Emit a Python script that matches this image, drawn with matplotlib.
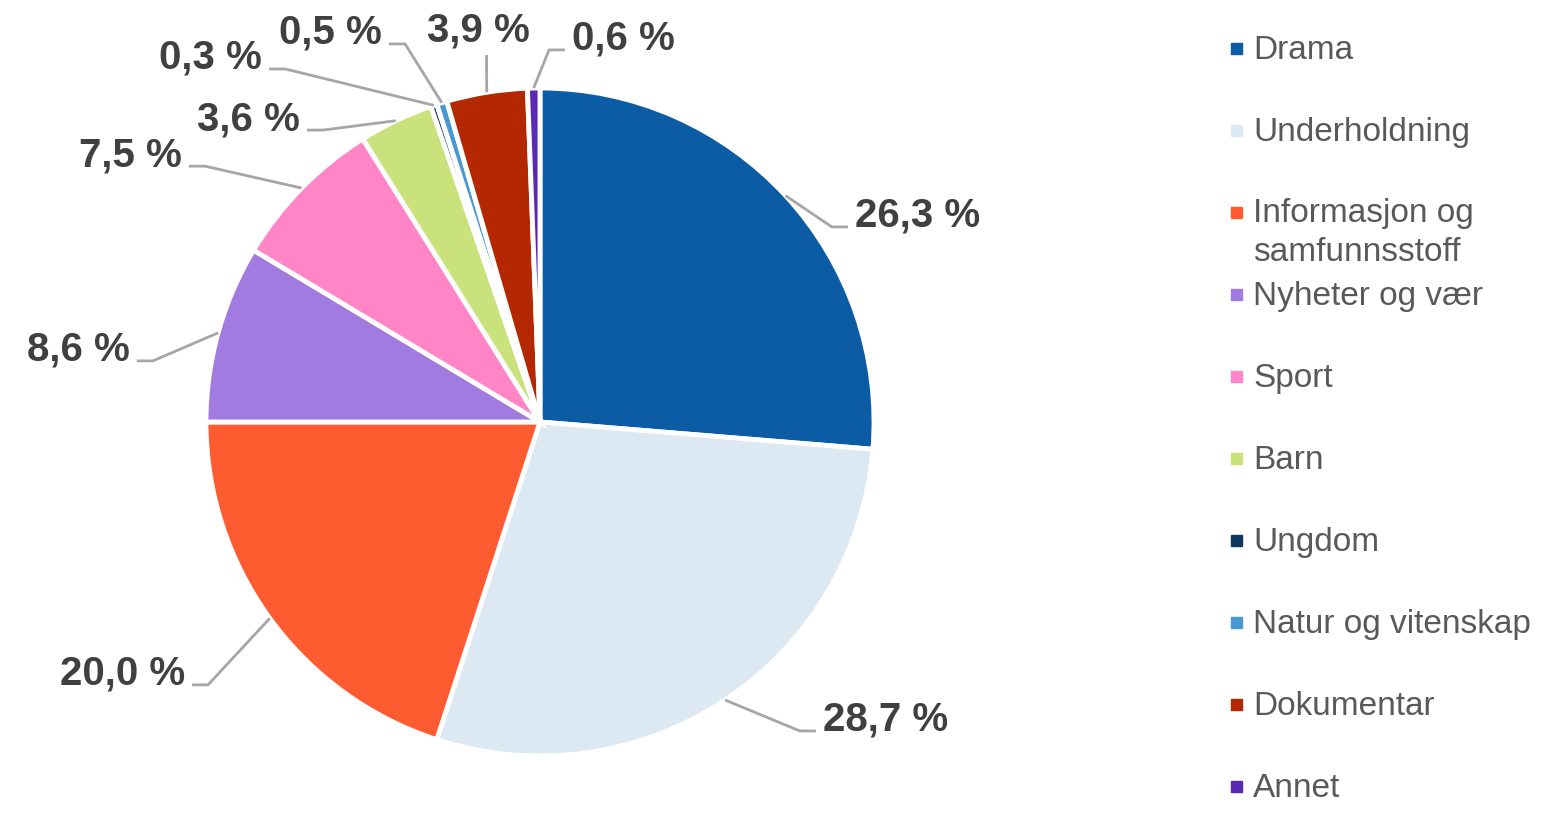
import numpy as np
import matplotlib.pyplot as plt
from matplotlib.patches import Rectangle

categories = ['Drama', 'Underholdning', 'Informasjon og\nsamfunnsstoff', 'Nyheter og vær',
              'Sport', 'Barn', 'Ungdom', 'Natur og vitenskap', 'Dokumentar', 'Annet']
shares = [26.3, 28.7, 20.0, 8.6, 7.5, 3.6, 0.3, 0.5, 3.9, 0.6]
colors = ['#0B5CA5', '#DCE9F3', '#FF5B31', '#A17BE0', '#FF85C6',
          '#C9E27B', '#0C385F', '#4A98D0', '#B32800', '#5B2AB5']
labels = [f'{v:.1f} %'.replace('.', ',') for v in shares]

# elbow of each leader line (pie radius = 1), and which side the label sits on
label_elbow = [(0.874, 0.584), (0.778, -0.925), (-0.994, -0.787), (-1.159, 0.183),
               (-1.003, 0.766), (-0.650, 0.874), (-0.763, 1.057), (-0.404, 1.132),
               (-0.160, 1.099), (0.027, 1.114)]
label_side = ['right', 'right', 'left', 'left', 'left', 'left', 'left', 'left', 'top', 'right']

plt.rcParams['font.family'] = ['Liberation Sans', 'DejaVu Sans']

W, H = 1556, 815
R = 334  # pie radius in pixels
fig = plt.figure(figsize=(W / 100, H / 100), dpi=100)
ax = fig.add_axes([0, 0, 1, 1])
wedges, _ = ax.pie(shares, colors=colors, startangle=90, counterclock=False,
                   wedgeprops=dict(edgecolor='white', linewidth=3.5))
ax.set_xlim(-540 / R, (W - 540) / R)
ax.set_ylim(-(H - 422) / R, 422 / R)
ax.set_aspect('auto')
ax.axis('off')

line_kw = dict(color='#A6A6A6', lw=2, solid_capstyle='butt')
txt_kw = dict(fontsize=29, fontweight='bold', color='#404040', va='baseline')
for w, lab, (ex, ey), side in zip(wedges, labels, label_elbow, label_side):
    mid = np.deg2rad((w.theta1 + w.theta2) / 2)
    sx, sy = np.cos(mid), np.sin(mid)
    if side == 'top':
        ax.plot([sx, ex], [sy, ey], **line_kw)
        ax.text(ex - 0.024, ey + 0.039, lab, ha='center', **txt_kw)
    else:
        d = 1 if side == 'right' else -1
        tx = ex + d * 0.048
        ax.plot([sx, ex, tx], [sy, ey, ey], **line_kw)
        ax.text(tx + d * 0.021, ey, lab, ha='left' if d > 0 else 'right', **txt_kw)

# legend on the right; wrapped entries hang below the marker
for i, (cat, col) in enumerate(zip(categories, colors)):
    yc = 48.5 + 82 * i
    fig.patches.append(Rectangle((1231 / W, 1 - (yc + 5.5) / H), 11 / W, 11 / H,
                                 transform=fig.transFigure, color=col))
    extra = 38 * cat.count('\n')
    fig.text(1253 / W, 1 - (yc + 10.5 + extra) / H, cat, fontsize=24, color='#595959',
             va='baseline', linespacing=1.34)

fig.savefig('out.png', dpi=100)
